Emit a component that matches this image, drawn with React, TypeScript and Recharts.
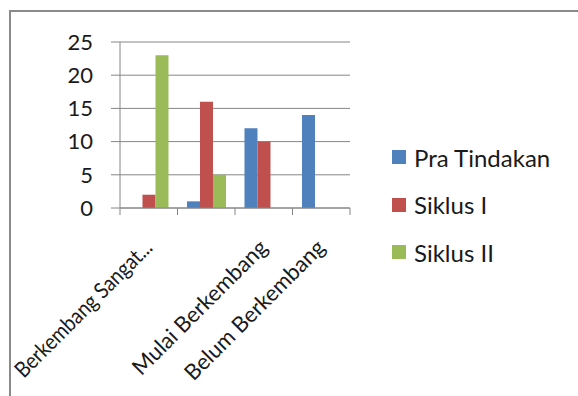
import React from "react";
import {
  BarChart,
  Bar,
  XAxis,
  YAxis,
  CartesianGrid,
} from "recharts";

const categories = [
  "Berkembang Sangat Baik",
  "Berkembang Sesuai Harapan",
  "Mulai Berkembang",
  "Belum Berkembang",
];
// the second label is hidden in the original (overlap), first one is cut short
const tickLabels = ["Berkembang Sangat...", "", "Mulai Berkembang", "Belum Berkembang"];

const praTindakan = [0, 1, 12, 14];
const siklusI = [2, 16, 10, 0];
const siklusII = [23, 5, 0, 0];

const yTicks = [0, 5, 10, 15, 20, 25];

const series = [
  { key: "pra", name: "Pra Tindakan", color: "#4F81BD" },
  { key: "s1", name: "Siklus I", color: "#C0504D" },
  { key: "s2", name: "Siklus II", color: "#9BBB59" },
];

const data = categories.map((name, i) => ({
  name,
  pra: praTindakan[i],
  s1: siklusI[i],
  s2: siklusII[i],
}));

const W = 578;
const H = 396;
const margin = { top: 42, right: 228, bottom: 0, left: 0 };
const Y_AXIS_W = 120;
const PLOT_BOTTOM = 208;
const bandWidth = (W - margin.right - Y_AXIS_W) / categories.length;
const axisColor = "#868686";
const textColor = "#1a1a1a";
const font = "Lato, 'Open Sans', sans-serif";

function CategoryTick(props: any) {
  const { x, y, index } = props;
  const left = x - bandWidth / 2;
  const right = x + bandWidth / 2;
  const label = tickLabels[index];
  const lx = x + 5;
  const ly = y + 41;
  // the truncated first label is drawn a bit narrower, like the original font
  const squeeze = index === 0 ? { textLength: 184, lengthAdjust: "spacingAndGlyphs" } : {};
  return (
    <g>
      <line x1={left} y1={y} x2={left} y2={y + 7} stroke={axisColor} />
      {index === categories.length - 1 && (
        <line x1={right} y1={y} x2={right} y2={y + 7} stroke={axisColor} />
      )}
      {label && (
        <text
          x={lx}
          y={ly}
          transform={`rotate(-45, ${lx}, ${ly})`}
          textAnchor="end"
          fontSize={22}
          fontFamily={font}
          fill={textColor}
          {...squeeze}
        >
          {label}
        </text>
      )}
    </g>
  );
}

export default function App() {
  return (
    <div
      style={{
        position: "absolute",
        left: 0,
        top: 0,
        width: W,
        height: H,
        background: "#fff",
        overflow: "hidden",
      }}
    >
      <div
        style={{
          position: "absolute",
          left: 9,
          top: 10,
          width: 700,
          height: 500,
          borderLeft: "2px solid #8a8a8a",
          borderTop: "2px solid #8a8a8a",
        }}
      />
      <div style={{ position: "absolute", left: 0, top: 0 }}>
        <BarChart
          width={W}
          height={H}
          data={data}
          margin={margin}
          barGap={0}
          barCategoryGap="16.5%"
        >
          <CartesianGrid vertical={false} stroke={axisColor} />
          <XAxis
            dataKey="name"
            interval={0}
            height={H - PLOT_BOTTOM - margin.bottom}
            tick={<CategoryTick />}
            tickLine={false}
            tickSize={0}
            tickMargin={0}
            stroke={axisColor}
          />
          <YAxis
            width={Y_AXIS_W}
            domain={[0, 25]}
            ticks={yTicks}
            interval={0}
            tickSize={9}
            tickMargin={18}
            stroke={axisColor}
            tick={{ fontSize: 22, fontFamily: font, fill: textColor }}
          />
          {series.map((s) => (
            <Bar
              key={s.key}
              dataKey={s.key}
              name={s.name}
              fill={s.color}
              isAnimationActive={false}
            />
          ))}
        </BarChart>
      </div>
      <div style={{ position: "absolute", left: 392, top: 143, fontFamily: font }}>
        {series.map((s) => (
          <div
            key={s.key}
            style={{ display: "flex", alignItems: "center", height: 28, marginBottom: 19.5 }}
          >
            <span
              style={{ width: 14, height: 14, background: s.color, display: "inline-block" }}
            />
            <span style={{ marginLeft: 8, fontSize: 24, color: textColor }}>{s.name}</span>
          </div>
        ))}
      </div>
    </div>
  );
}
